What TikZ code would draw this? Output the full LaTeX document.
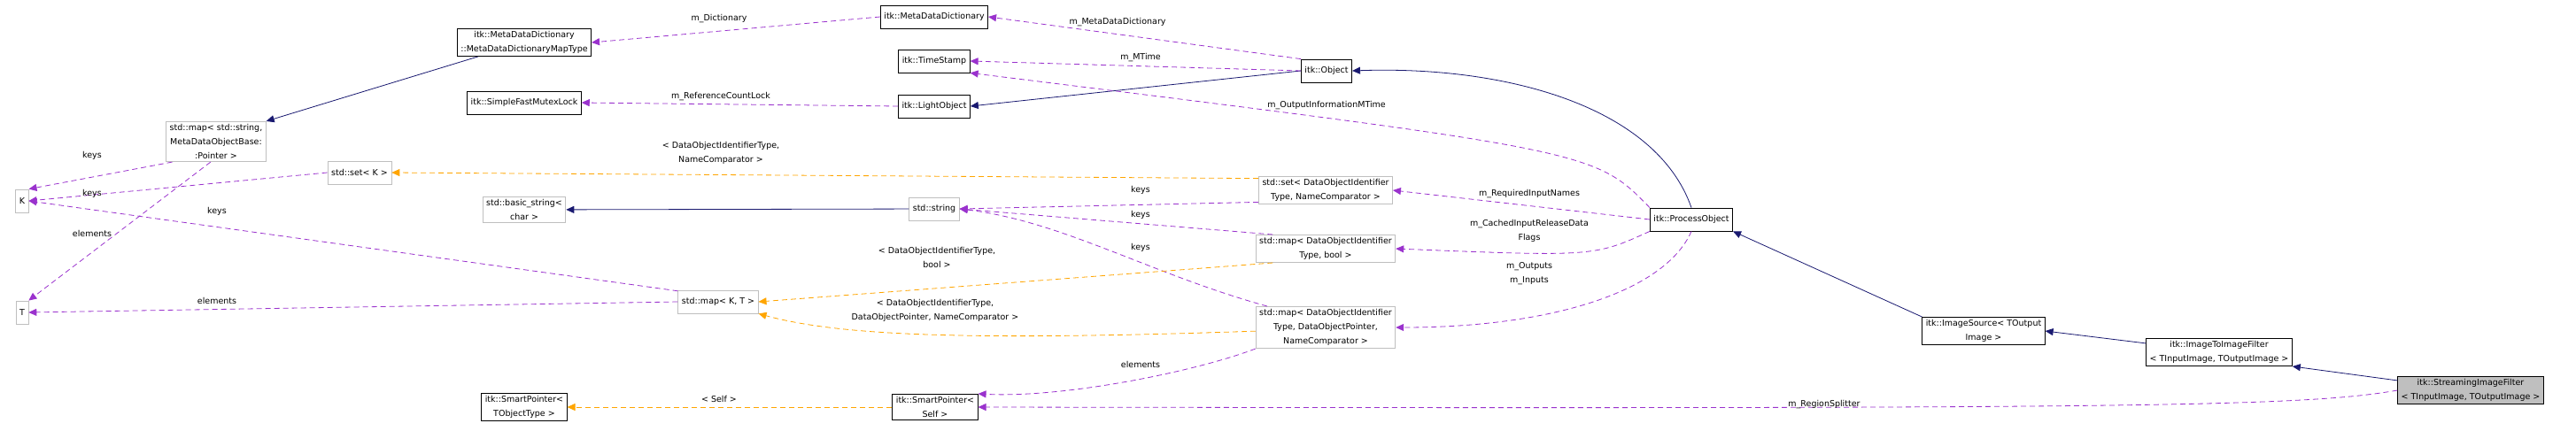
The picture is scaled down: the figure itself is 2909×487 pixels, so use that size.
\documentclass[tikz,border=0pt]{standalone}
\usepackage{fontspec}
\setmainfont{DejaVu Sans}
\usepackage{xcolor}
\usetikzlibrary{arrows.meta}
\definecolor{usecol}{HTML}{9A32CD}
\definecolor{tplcol}{HTML}{FFA500}
\definecolor{inhcol}{HTML}{191970}
\begin{document}
\begin{tikzpicture}[
            x=1pt, y=-1pt,
            every node/.style = {font=\fontsize{9.5}{16}\selectfont, align=center},
            cls/.style = {draw=black, thick, fill=white, inner xsep=4pt, inner ysep=3pt,
                         minimum height=26pt},
            ext/.style = {cls, draw=gray!50},
            cur/.style = {cls, fill=gray!50},
            lbl/.style = {inner sep=1pt},
            uses/.style = {draw=usecol, thick, dashed, dash pattern=on 6pt off 4pt,
                         -{Triangle[length=9pt,width=8pt]}},
            tmpl/.style = {uses, draw=tplcol},
            inh/.style = {draw=inhcol, thick, -{Triangle[length=9pt,width=8pt]}}
        ]
            \useasboundingbox (0,0) rectangle (2909,487);
            \node (mddmap) at (592,48) [cls] {itk::MetaDataDictionary\\::MetaDataDictionaryMapType};
            \node (mutex) at (592,116) [cls] {itk::SimpleFastMutexLock};
            \node (strmap) at (244,160) [ext] {std::map< std::string,\\MetaDataObjectBase:\\:Pointer >};
            \node (K) at (25,227) [ext] {K};
            \node (T) at (25,353) [ext] {T};
            \node (setk) at (406,195) [ext] {std::set< K >};
            \node (bstr) at (592,237) [ext] {std::basic\_string<\\char >};
            \node (mapkt) at (811,341) [ext] {std::map< K, T >};
            \node (spobj) at (592,460) [cls] {itk::SmartPointer<\\TObjectType >};
            \node (mdd) at (1055,19) [cls] {itk::MetaDataDictionary};
            \node (ts) at (1055,69) [cls] {itk::TimeStamp};
            \node (light) at (1055,120) [cls] {itk::LightObject};
            \node (str) at (1055,236) [ext] {std::string};
            \node (spself) at (1056,460) [cls] {itk::SmartPointer<\\Self >};
            \node (obj) at (1498,80) [cls] {itk::Object};
            \node (setd) at (1497,215) [ext] {std::set< DataObjectIdentifier\\Type, NameComparator >};
            \node (mapb) at (1497,281) [ext] {std::map< DataObjectIdentifier\\Type, bool >};
            \node (mapn) at (1497,370) [ext] {std::map< DataObjectIdentifier\\Type, DataObjectPointer,\\NameComparator >};
            \node (proc) at (1910,248) [cls] {itk::ProcessObject};
            \node (isrc) at (2240,374) [cls] {itk::ImageSource< TOutput\\Image >};
            \node (i2i) at (2506,398) [cls] {itk::ImageToImageFilter\\< TInputImage, TOutputImage >};
            \node (sif) at (2790,441) [cur] {itk::StreamingImageFilter\\< TInputImage, TOutputImage >};

            % inheritance
            \draw[inh] (mddmap) -- (strmap.north east);
            \draw[inh] (obj.west) -- (light.east);
            \draw[inh] (proc.north) .. controls (1870,120) and (1700,74) .. (obj.east);
            \draw[inh] (isrc.north west) -- (proc.south east);
            \draw[inh] (i2i) -- (isrc.east);
            \draw[inh] (sif) -- (i2i.south east);
            \draw[inh] (str) -- (bstr);

            % members
            \draw[uses] (mdd.west) -- (mddmap.east);
            \draw[uses] (obj.north west) -- (mdd.east);
            \draw[uses] (obj.west) -- (ts.east);
            \draw[uses] (light.west) -- (mutex.east);
            \draw[uses] (proc.north west) .. controls (1800,170) .. (ts.south east);
            \draw[uses] (proc.west) -- (setd.east);
            \draw[uses] (proc.south west) .. controls (1800,290) .. (mapb.east);
            \draw[uses] (proc.south) .. controls (1880,330) and (1750,370) .. (mapn.east);
            \draw[uses] (sif.west) .. controls (2600,460) and (2400,462) .. (spself.east);
            \draw[uses] (mapn.south west) .. controls (1350,420) and (1200,450) .. (spself.north east);
            \draw[uses] (setd.190) -- (str.east);
            \draw[uses] (mapb.165) -- (str.east);
            \draw[uses] (mapn.160) .. controls (1300,310) and (1200,250) .. (str.east);
            \draw[uses] (mapkt.165) -- (K.east);
            \draw[uses] (mapkt.west) -- (T.east);
            \draw[uses] (setk.west) -- (K.east);
            \draw[uses] (strmap.205) -- (K.north east);
            \draw[uses] (strmap.255) -- (T.north east);

            % template instances
            \draw[tmpl] (setd.170) -- (setk.east);
            \draw[tmpl] (mapb.195) -- (mapkt.east);
            \draw[tmpl] (mapn.183) .. controls (1100,385) and (950,380) .. (mapkt.south east);
            \draw[tmpl] (spself.west) -- (spobj.east);

            % labels
            \node (lDict) at (812,21) [lbl] {m\_Dictionary};
            \node (lMDD) at (1262,25) [lbl] {m\_MetaDataDictionary};
            \node (lMTime) at (1288,65) [lbl] {m\_MTime};
            \node (lRef) at (814,109) [lbl] {m\_ReferenceCountLock};
            \node (lOIM) at (1498,119) [lbl] {m\_OutputInformationMTime};
            \node (lReq) at (1727,219) [lbl] {m\_RequiredInputNames};
            \node (lCache) at (1727,261) [lbl] {m\_CachedInputReleaseData\\Flags};
            \node (lIO) at (1727,309) [lbl] {m\_Outputs\\m\_Inputs};
            \node (lSplit) at (2060,457) [lbl] {m\_RegionSplitter};
            \node (lSelf) at (812,451) [lbl] {< Self >};
            \node (lElem) at (1288,412) [lbl] {elements};
            \node (lSetT) at (814,173) [lbl] {< DataObjectIdentifierType,\\NameComparator >};
            \node (lKeys1) at (1288,215) [lbl] {keys};
            \node (lKeys2) at (1288,243) [lbl] {keys};
            \node (lKeys3) at (1288,280) [lbl] {keys};
            \node (lBoolT) at (1058,291) [lbl] {< DataObjectIdentifierType,\\bool >};
            \node (lPtrT) at (1056,351) [lbl] {< DataObjectIdentifierType,\\DataObjectPointer, NameComparator >};
            \node (lKeys4) at (245,239) [lbl] {keys};
            \node (lElem2) at (245,340) [lbl] {elements};
            \node (lKeys5) at (104,219) [lbl] {keys};
            \node (lKeys6) at (104,176) [lbl] {keys};
            \node (lElem3) at (104,264) [lbl] {elements};
        \end{tikzpicture}
\end{document}
